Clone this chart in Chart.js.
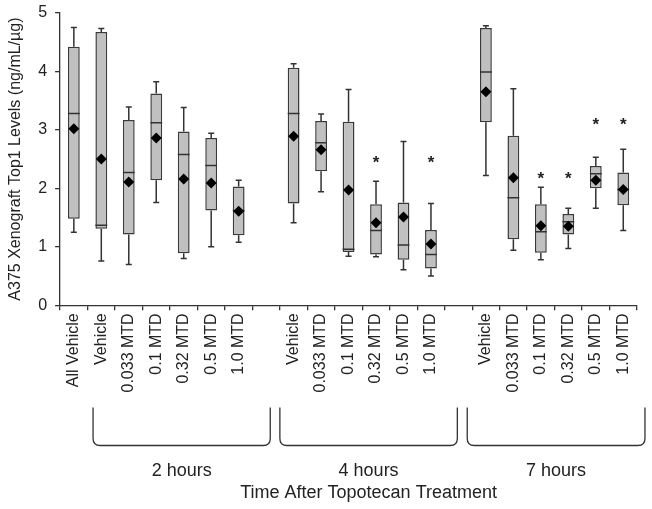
<!DOCTYPE html>
<html>
<head>
<meta charset="utf-8">
<script src="https://cdn.jsdelivr.net/npm/chart.js@4.4.1/dist/chart.umd.min.js"></script>
<style>
  html, body { margin: 0; padding: 0; background: #fff; }
  #wrap { width: 652px; height: 509px; }
</style>
</head>
<body>
<div id="wrap"><canvas id="chart"></canvas></div>
<script>
// categories ('' = empty slot between time groups)
const categories = [
  'All Vehicle',
  'Vehicle', '0.033 MTD', '0.1 MTD', '0.32 MTD', '0.5 MTD', '1.0 MTD', '',
  'Vehicle', '0.033 MTD', '0.1 MTD', '0.32 MTD', '0.5 MTD', '1.0 MTD', '',
  'Vehicle', '0.033 MTD', '0.1 MTD', '0.32 MTD', '0.5 MTD', '1.0 MTD'
];

// box plot statistics
const whiskerLow  = [1.25, 0.76, 0.70, 1.76, 0.80, 1.00, 1.08, null, 1.41, 1.94, 0.84, 0.83, 0.61, 0.50, null, 2.22, 0.94, 0.78, 0.97, 1.66, 1.28];
const q1          = [1.48, 1.31, 1.21, 2.14, 0.89, 1.62, 1.20, null, 1.74, 2.29, 0.91, 0.87, 0.78, 0.63, null, 3.13, 1.13, 0.90, 1.21, 2.00, 1.71];
const medians     = [3.28, 1.37, 2.27, 3.12, 2.58, 2.39, 1.62, null, 3.28, 2.78, 0.96, 1.28, 1.03, 0.87, null, 3.99, 1.84, 1.26, 1.43, 2.25, 1.98];
const q3          = [4.42, 4.67, 3.17, 3.62, 2.97, 2.86, 2.03, null, 4.06, 3.15, 3.14, 1.73, 1.76, 1.29, null, 4.74, 2.90, 1.73, 1.56, 2.38, 2.27];
const whiskerHigh = [4.75, 4.73, 3.39, 3.82, 3.38, 2.94, 2.14, null, 4.13, 3.27, 3.69, 2.12, 2.80, 1.74, null, 4.78, 3.70, 2.02, 1.66, 2.53, 2.67];
const means       = [3.02, 2.50, 2.11, 2.86, 2.16, 2.09, 1.61, null, 2.89, 2.66, 1.97, 1.41, 1.51, 1.05, null, 3.65, 2.18, 1.36, 1.35, 2.14, 1.98];
// significance marks (*), value where the asterisk sits
const stars       = [null, null, null, null, null, null, null, null, null, null, null, 2.52, null, 2.52, null, null, null, 2.25, 2.25, 3.16, 3.16];

const yTicks = [0, 1, 2, 3, 4, 5];
const groupLabels = ['2 hours', '4 hours', '7 hours'];
const xTitle = 'Time After Topotecan Treatment';
const yTitle = 'A375 Xenograft Top1 Levels (ng/mL/µg)';

const FONT = "'Liberation Sans', Arial, sans-serif";
const INK = '#222';
const LINE = '#333';

const boxes = q1.map((v, i) => v === null ? null : [v, q3[i]]);

// whiskers + medians, drawn right after the boxes (under the means)
const boxPlotPlugin = {
  id: 'boxPlot',
  afterDatasetDraw(chart, args) {
    if (args.index !== 1) return;
    const { ctx } = chart;
    const y = chart.scales.y;
    const bars = args.meta.data;
    ctx.save();
    ctx.strokeStyle = LINE;
    ctx.lineWidth = 1.5;
    bars.forEach((bar, i) => {
      if (q1[i] === null) return;
      const x = bar.x;
      const half = bar.width / 2;
      const yHi = y.getPixelForValue(whiskerHigh[i]);
      const yLo = y.getPixelForValue(whiskerLow[i]);
      const yQ3 = y.getPixelForValue(q3[i]);
      const yQ1 = y.getPixelForValue(q1[i]);
      const yMed = y.getPixelForValue(medians[i]);
      ctx.beginPath();
      ctx.moveTo(x, yQ3); ctx.lineTo(x, yHi);
      ctx.moveTo(x - 3, yHi); ctx.lineTo(x + 3, yHi);
      ctx.moveTo(x, yQ1); ctx.lineTo(x, yLo);
      ctx.moveTo(x - 3, yLo); ctx.lineTo(x + 3, yLo);
      ctx.moveTo(x - half, yMed); ctx.lineTo(x + half, yMed);
      ctx.stroke();
    });
    ctx.restore();
  },
  afterDraw(chart) {
    const { ctx } = chart;
    const xs = chart.scales.x;
    const ys = chart.scales.y;
    ctx.save();

    // asterisks
    ctx.fillStyle = INK;
    ctx.font = 'bold 17px ' + FONT;
    ctx.textAlign = 'center';
    ctx.textBaseline = 'alphabetic';
    stars.forEach((s, i) => {
      if (s === null) return;
      ctx.fillText('*', xs.getPixelForValue(i), ys.getPixelForValue(s) + 10);
    });

    // group brackets (in category-index units)
    const spans = [[0.70, 7.15], [7.50, 13.96], [14.32, 20.79]];
    const top = xs.bottom + 12;
    const bottom = top + 38;
    const r = 7;
    ctx.strokeStyle = LINE;
    ctx.lineWidth = 1.3;
    ctx.font = '18px ' + FONT;
    ctx.textBaseline = 'middle';
    const centers = [];
    spans.forEach((s, k) => {
      const l = xs.getPixelForValue(s[0]);
      const rt = xs.getPixelForValue(s[1]);
      ctx.beginPath();
      ctx.moveTo(l, top);
      ctx.lineTo(l, bottom - r);
      ctx.quadraticCurveTo(l, bottom, l + r, bottom);
      ctx.lineTo(rt - r, bottom);
      ctx.quadraticCurveTo(rt, bottom, rt, bottom - r);
      ctx.lineTo(rt, top);
      ctx.stroke();
      centers.push((l + rt) / 2);
      ctx.fillText(groupLabels[k], (l + rt) / 2, bottom + 26);
    });
    ctx.fillText(xTitle, centers[1], bottom + 48);
    ctx.restore();
  }
};

const ctx = document.getElementById('chart').getContext('2d');
new Chart(ctx, {
  type: 'bar',
  data: {
    labels: categories,
    datasets: [
      {
        type: 'line',
        label: 'Mean',
        data: means,
        showLine: false,
        pointStyle: 'rectRot',
        pointRadius: 5.5,
        pointBackgroundColor: '#000',
        pointBorderColor: '#000',
        pointBorderWidth: 0,
        order: 0
      },
      {
        type: 'bar',
        label: 'Interquartile range',
        data: boxes,
        backgroundColor: '#c0c0c0',
        borderColor: '#3a3a3a',
        borderWidth: 1.5,
        borderSkipped: false,
        categoryPercentage: 1,
        barPercentage: 0.43,
        order: 1
      }
    ]
  },
  options: {
    responsive: true,
    maintainAspectRatio: false,
    animation: false,
    layout: {
      autoPadding: false,
      padding: { top: 7, right: 15, bottom: 113.5, left: 2 }
    },
    scales: {
      x: {
        grid: {
          display: true,
          drawOnChartArea: false,
          drawTicks: true,
          tickLength: 5,
          color: LINE,
          lineWidth: 1.3
        },
        border: { display: true, color: LINE, width: 1.3 },
        ticks: {
          autoSkip: false,
          maxRotation: 90,
          minRotation: 90,
          padding: 3,
          color: INK,
          font: { family: FONT, size: 16 }
        }
      },
      y: {
        min: 0,
        max: 5,
        afterBuildTicks(scale) {
          scale.ticks = yTicks.map(v => ({ value: v }));
        },
        grid: {
          display: true,
          drawOnChartArea: false,
          drawTicks: true,
          tickLength: 5,
          color: LINE,
          lineWidth: 1.3
        },
        border: { display: true, color: LINE, width: 1.3 },
        ticks: {
          padding: 8,
          color: INK,
          font: { family: FONT, size: 16, lineHeight: 0.6 }
        },
        title: {
          display: true,
          text: yTitle,
          color: INK,
          padding: { top: 4, bottom: 5 },
          font: { family: FONT, size: 16 }
        }
      }
    },
    plugins: {
      legend: { display: false },
      tooltip: { enabled: false }
    }
  },
  plugins: [boxPlotPlugin]
});
</script>
</body>
</html>
